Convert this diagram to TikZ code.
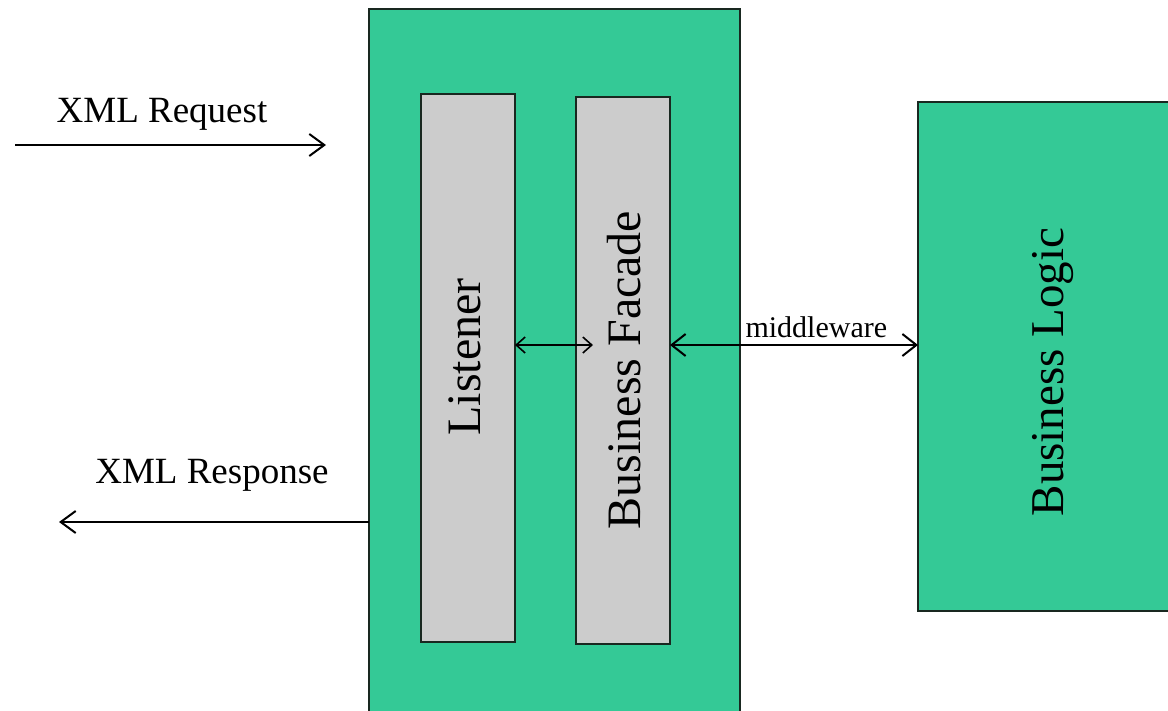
\documentclass[tikz,border=0pt]{standalone}
\usepackage{fontspec}
\setmainfont{Liberation Serif}
\usetikzlibrary{arrows.meta,calc}
\definecolor{boxgreen}{RGB}{52,201,150}
\definecolor{boxgray}{RGB}{204,204,204}
\definecolor{edge}{RGB}{25,40,32}
\tikzset{
  greenbox/.style={draw=edge, line width=2pt, fill=boxgreen, inner sep=0pt, outer sep=0pt},
  graybox/.style={draw=edge, line width=2pt, fill=boxgray, inner sep=0pt, outer sep=0pt},
  vlabel/.style={rotate=90, inner sep=0pt, font=\fontsize{48}{56}\selectfont},
  hlabel/.style={inner sep=0pt, anchor=base, font=\fontsize{37}{44}\selectfont},
  mlabel/.style={inner sep=0pt, anchor=base, font=\fontsize{30}{36}\selectfont},
  bigtip/.style={line width=2pt, -{Straight Barb[length=15pt,width=22pt,line width=2pt]}},
  conn/.style={line width=2pt, {Straight Barb[length=14pt,width=22pt,line width=2pt]}-{Straight Barb[length=14pt,width=22pt,line width=2pt]}},
  smallconn/.style={line width=1.6pt, {Straight Barb[length=9pt,width=16pt,line width=1.6pt]}-{Straight Barb[length=9pt,width=16pt,line width=1.6pt]}}
}
\begin{document}
\begin{tikzpicture}[x=1pt,y=-1pt]
\useasboundingbox (0,0) rectangle (1168,710);
\fill[white] (0,0) rectangle (1168,710);
\clip (0,0) rectangle (1168,710);
% boxes
\node[greenbox, minimum width=371pt, minimum height=740pt] (server) at (554,379) {};
\node[graybox, minimum width=94pt, minimum height=548pt] (listener) at (468,368) {};
\node[graybox, minimum width=94pt, minimum height=547pt] (facade) at (623,370.5) {};
\node[greenbox, minimum width=260pt, minimum height=509pt] (logic) at (1048,356.5) {};
% texts
\node[vlabel] (listenerlbl) at (465,357) {Listener};
\node[vlabel] (facadelbl) at (624,370) {Business Facade};
\node[vlabel, font=\fontsize{47}{55}\selectfont] (logiclbl) at (1053,372) {Business Logic};
\node[hlabel] (reqlbl) at (162,122) {XML Request};
\node[hlabel] (reslbl) at (212,483) {XML Response};
% coordinates
\coordinate (mid) at (0,345);
\coordinate (reqstart) at (15,145);
\coordinate (reqend) at (326,145);
\coordinate (resend) at (59,522);
\coordinate (resy) at (0,522);
% connectors
\draw[bigtip] (reqstart) -- (reqend);
\draw[bigtip] (server.west |- resy) -- (resend);
\draw[smallconn] (listener.east |- mid) -- ($(facade.west |- mid)+(17,0)$);
\draw[conn] (facade.east |- mid) -- node[mlabel, pos=0.59, yshift=8pt] (mw) {middleware} (logic.west |- mid);
\end{tikzpicture}
\end{document}
